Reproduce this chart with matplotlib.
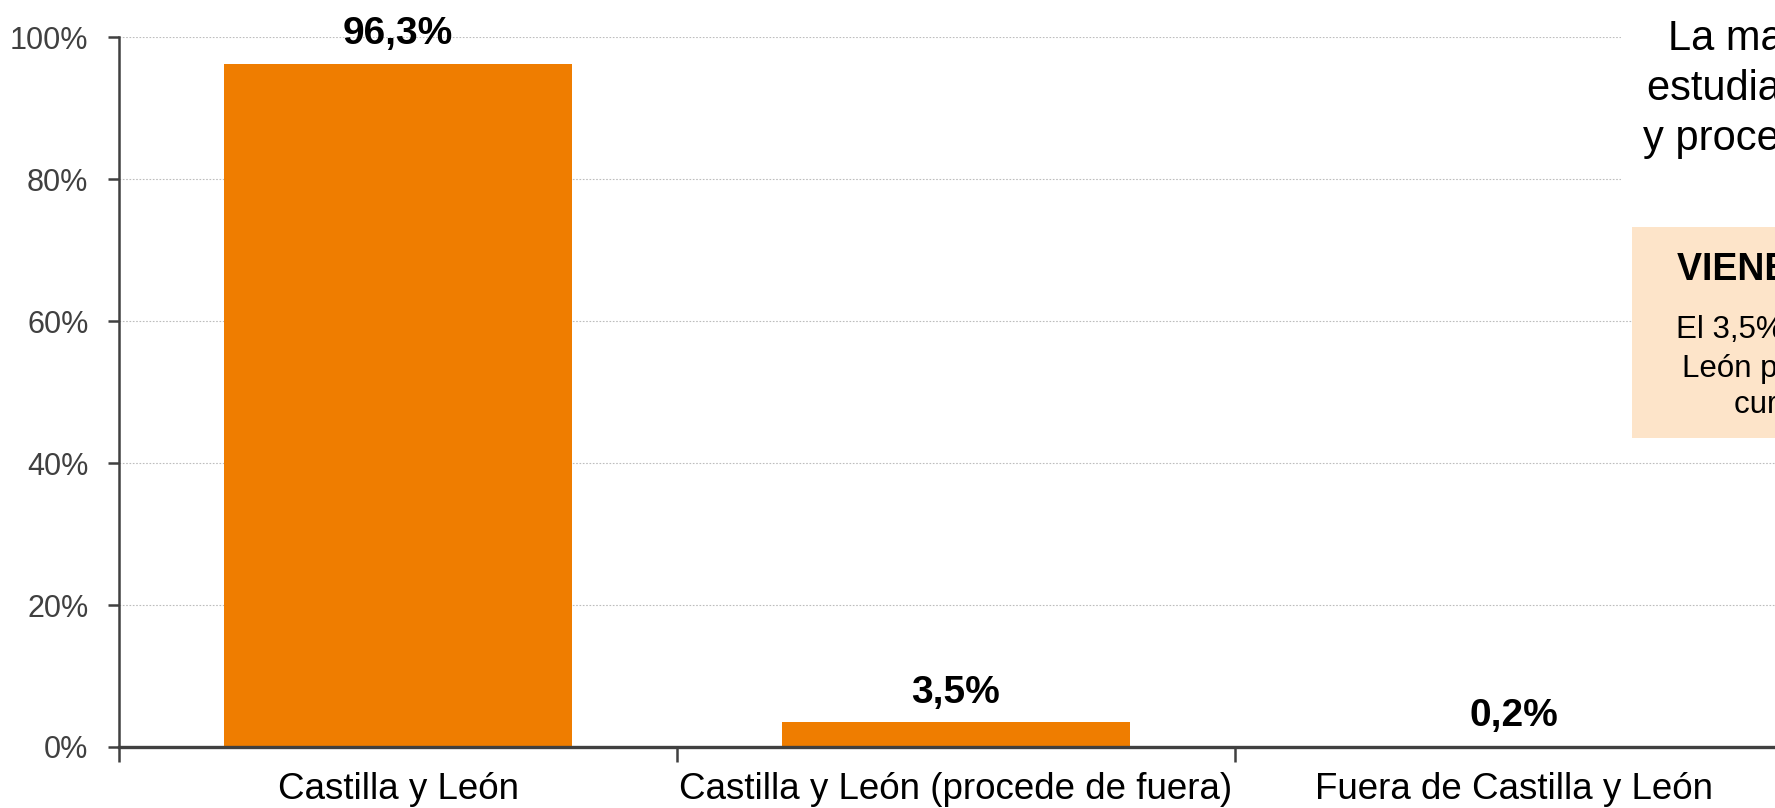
import matplotlib
matplotlib.use("Agg")
import matplotlib.pyplot as plt
from matplotlib.patches import Rectangle
from matplotlib.ticker import FuncFormatter, FixedLocator

plt.rcParams['font.family'] = ['Liberation Sans', 'DejaVu Sans']

categories = ["Castilla y León", "Castilla y León (procede de fuera)", "Fuera de Castilla y León"]
values = [96.3, 3.5, 0.2]
value_labels = ["96,3%", "3,5%", "0,2%"]
yticks = [0, 20, 40, 60, 80, 100]

W, H = 1775, 808
fig = plt.figure(figsize=(W / 100, H / 100), dpi=100)

def fx(px):
    return px / W

def fy(py_top):
    return 1 - py_top / H

ax_left, ax_right, ax_top, ax_bottom = 119, 1793, 37.4, 747
ax = fig.add_axes([fx(ax_left), fy(ax_bottom), fx(ax_right - ax_left), (ax_bottom - ax_top) / H])

bar_color = "#EF7D00"
xs = list(range(len(categories)))
ax.bar(xs, values, width=0.624, color=bar_color, zorder=2)

for x, v, lab in zip(xs, values, value_labels):
    ax.annotate(lab, (x, v), xytext=(0, 14), textcoords="offset points",
                ha="center", va="baseline", fontsize=28, fontweight="bold", color="black")

ax.set_xlim(-0.5, len(categories) - 0.5)
ax.set_ylim(0, 100)
ax.yaxis.set_major_locator(FixedLocator(yticks))
ax.yaxis.set_major_formatter(FuncFormatter(lambda v, p: f"{int(v)}%"))
ax.set_xticks(xs)
ax.set_xticklabels(categories)
ax.xaxis.set_minor_locator(FixedLocator([i - 0.5 for i in range(len(categories) + 1)]))

ax.tick_params(axis="x", which="major", length=0, pad=18, labelsize=26.5, labelcolor="black")
ax.tick_params(axis="x", which="minor", length=11, width=1.8, color="#404040")
ax.tick_params(axis="y", which="major", length=8, width=1.8, color="#404040", pad=14,
               labelsize=22, labelcolor="#404040")

ax.grid(axis="y", color="#BDBDBD", linestyle=(0, (1.5, 1.5)), linewidth=0.8, zorder=0)
ax.set_axisbelow(True)
for s in ["top", "right"]:
    ax.spines[s].set_visible(False)
ax.spines["left"].set_color("#404040")
ax.spines["left"].set_linewidth(1.8)
ax.spines["bottom"].set_color("#404040")
ax.spines["bottom"].set_linewidth(2.4)
ax.spines["bottom"].set_zorder(3)

# white area behind top-right text
fig.add_artist(Rectangle((fx(1621), fy(205)), fx(W - 1621 + 50), 205 / H,
                         transform=fig.transFigure, facecolor="white", edgecolor="none", zorder=1))
# peach info box
fig.add_artist(Rectangle((fx(1632), fy(438)), fx(W - 1632 + 50), (438 - 227) / H,
                         transform=fig.transFigure, facecolor="#FDE4C9", edgecolor="none", zorder=1))

top_lines = [("La mayoría del alumnado", 1668, 50),
             ("estudia en Castilla y León", 1647, 100),
             ("y procede de la comunidad", 1643, 150)]
for t, x, y in top_lines:
    fig.text(fx(x), fy(y), t, ha="left", va="baseline", fontsize=30, color="black", zorder=3)

fig.text(fx(1677), fy(280), "VIENEN DE FUERA", ha="left", va="baseline", fontsize=27,
         fontweight="bold", color="black", zorder=3)
box_lines = [("El 3,5% del alumnado de Castilla y", 1676, 338),
             ("León procede de otras regiones y", 1682, 377),
             ("cursa aquí sus estudios", 1734, 413)]
for t, x, y in box_lines:
    fig.text(fx(x), fy(y), t, ha="left", va="baseline", fontsize=22.5, color="black", zorder=3)

fig.savefig("out.png", dpi=100)
